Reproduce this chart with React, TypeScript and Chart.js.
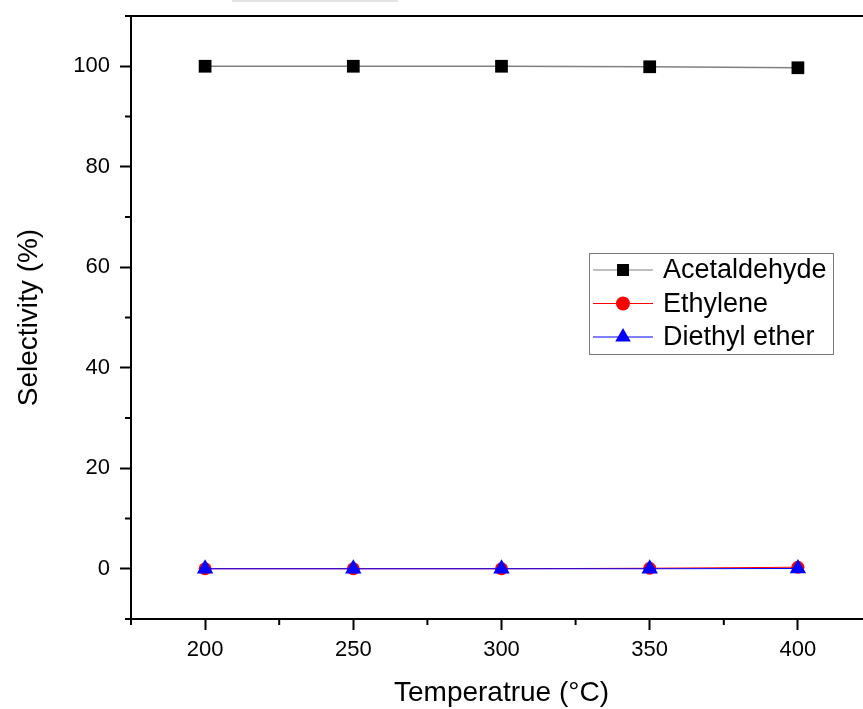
import React, { useEffect, useRef } from "react";
import { Chart, registerables } from "chart.js";

Chart.register(...registerables);

// ---- data ----
const temperatures = [200, 250, 300, 350, 400];
const acetaldehyde = [100, 100, 100, 99.9, 99.7];
const ethylene = [0, 0, 0, 0.1, 0.3];
const diethylEther = [0, 0, 0, 0, 0.05];
const seriesNames = ["Acetaldehyde", "Ethylene", "Diethyl ether"];
const xMajorTicks = [200, 250, 300, 350, 400];
const xMinorTicks = [175, 225, 275, 325, 375, 425];
const yMajorTicks = [0, 20, 40, 60, 80, 100];
const yMinorTicks = [-10, 10, 30, 50, 70, 90, 110];
const xTitle = "Temperatrue (°C)";
const yTitle = "Selectivity (%)";

const FONT = "'Liberation Sans', Arial, Helvetica, sans-serif";

function toPoints(ys: number[]) {
  return temperatures.map((t, i) => ({ x: t, y: ys[i] }));
}

function drawMarker(ctx: CanvasRenderingContext2D, style: string, x: number, y: number, r: number, color: string) {
  ctx.save();
  ctx.fillStyle = color;
  ctx.beginPath();
  if (style === "rect") {
    const s = Math.SQRT1_2 * r;
    ctx.rect(x - s, y - s, 2 * s, 2 * s);
  } else if (style === "circle") {
    ctx.arc(x, y, r, 0, Math.PI * 2);
  } else if (style === "triangle") {
    let rad = 0;
    ctx.moveTo(x + Math.sin(rad) * r, y - Math.cos(rad) * r);
    rad += (2 * Math.PI) / 3;
    ctx.lineTo(x + Math.sin(rad) * r, y - Math.cos(rad) * r);
    rad += (2 * Math.PI) / 3;
    ctx.lineTo(x + Math.sin(rad) * r, y - Math.cos(rad) * r);
    ctx.closePath();
  }
  ctx.fill();
  ctx.restore();
}

const framePlugin = {
  id: "frameAndLegend",
  afterDraw(chart: any) {
    const ctx: CanvasRenderingContext2D = chart.ctx;
    const { left, right, top, bottom } = chart.chartArea;
    const xs = chart.scales.x;
    const ys = chart.scales.y;
    ctx.save();
    // faint grey artifact at very top
    ctx.fillStyle = "#e4e4e4";
    ctx.fillRect(232, 0, 166, 2);

    ctx.strokeStyle = "#000";
    ctx.lineWidth = 2;
    // top and right border
    ctx.beginPath();
    ctx.moveTo(left - 1, top);
    ctx.lineTo(right, top);
    ctx.lineTo(right, bottom);
    ctx.stroke();
    // minor ticks
    ctx.beginPath();
    for (const v of xMinorTicks) {
      const px = xs.getPixelForValue(v);
      ctx.moveTo(px, bottom);
      ctx.lineTo(px, bottom + 6);
    }
    for (const v of yMinorTicks) {
      const py = ys.getPixelForValue(v);
      ctx.moveTo(left, py);
      ctx.lineTo(left - 6, py);
    }
    ctx.stroke();

    // legend box
    const bx = 589, by = 253, bw = 244, bh = 101;
    ctx.fillStyle = "#fff";
    ctx.fillRect(bx, by, bw, bh);
    ctx.strokeStyle = "#777";
    ctx.lineWidth = 1;
    ctx.strokeRect(bx + 0.5, by + 0.5, bw, bh);
    const rows = [270, 303.5, 337];
    chart.data.datasets.forEach((ds: any, i: number) => {
      const y = rows[i];
      ctx.strokeStyle = ds.borderColor;
      ctx.lineWidth = 1;
      ctx.beginPath();
      ctx.moveTo(593, y);
      ctx.lineTo(653, y);
      ctx.stroke();
      drawMarker(ctx, ds.pointStyle, 623, y, ds.legendRadius, ds.pointBackgroundColor);
      ctx.fillStyle = "#000";
      ctx.font = `27px ${FONT}`;
      ctx.textAlign = "left";
      ctx.textBaseline = "middle";
      ctx.fillText(ds.label, 663, y + 1);
    });
    ctx.restore();
  },
};

export default function App() {
  const ref = useRef<HTMLCanvasElement>(null);
  useEffect(() => {
    if (!ref.current) return;
    const chart = new Chart(ref.current, {
      type: "line",
      data: {
        datasets: [
          {
            label: seriesNames[0],
            data: toPoints(acetaldehyde),
            borderColor: "#808080",
            borderWidth: 1.3,
            pointStyle: "rect",
            pointRadius: 9,
            pointBackgroundColor: "#000",
            pointBorderWidth: 0,
            pointBorderColor: "#000",
            legendRadius: 8.5,
            order: 3,
          } as any,
          {
            label: seriesNames[1],
            data: toPoints(ethylene),
            borderColor: "#ff0000",
            borderWidth: 1,
            pointStyle: "circle",
            pointRadius: 6.5,
            pointBackgroundColor: "#ff0000",
            pointBorderWidth: 0,
            pointBorderColor: "#ff0000",
            legendRadius: 7,
            order: 2,
          } as any,
          {
            label: seriesNames[2],
            data: toPoints(diethylEther),
            borderColor: "#0000ff",
            borderWidth: 1,
            pointStyle: "triangle",
            pointRadius: 9.5,
            pointBackgroundColor: "#0000ff",
            pointBorderWidth: 0,
            pointBorderColor: "#0000ff",
            legendRadius: 9,
            order: 1,
          } as any,
        ],
      },
      options: {
        animation: false,
        responsive: false,
        maintainAspectRatio: false,
        layout: { autoPadding: false, padding: { top: 16, left: 0, right: 0, bottom: 0 } },
        plugins: {
          legend: { display: false },
          tooltip: { enabled: false },
        },
        elements: { line: { tension: 0 } },
        scales: {
          x: {
            type: "linear",
            min: 175,
            max: 425,
            afterFit: (s: any) => {
              s.height = 90;
              s.paddingLeft = 0;
              s.paddingRight = 0;
            },
            afterBuildTicks: (s: any) => {
              s.ticks = xMajorTicks.map((v) => ({ value: v }));
            },
            border: { display: true, color: "#000", width: 2 },
            grid: {
              drawOnChartArea: false,
              drawTicks: true,
              tickLength: 11,
              tickWidth: 2,
              tickColor: "#000",
            },
            ticks: {
              color: "#000",
              font: { family: FONT, size: 22 },
              padding: 7,
              maxRotation: 0,
              autoSkip: false,
            },
            title: {
              display: true,
              text: xTitle,
              color: "#000",
              font: { family: FONT, size: 28, lineHeight: 1 },
              padding: { top: 0, bottom: 2 },
            },
          },
          y: {
            type: "linear",
            min: -10,
            max: 110,
            afterFit: (s: any) => {
              s.width = 131;
              s.paddingTop = 0;
              s.paddingBottom = 0;
            },
            afterBuildTicks: (s: any) => {
              s.ticks = yMajorTicks.map((v) => ({ value: v }));
            },
            border: { display: true, color: "#000", width: 2 },
            grid: {
              drawOnChartArea: false,
              drawTicks: true,
              tickLength: 11,
              tickWidth: 2,
              tickColor: "#000",
            },
            ticks: {
              color: "#000",
              font: { family: FONT, size: 22 },
              padding: 10,
              autoSkip: false,
            },
            title: {
              display: true,
              text: yTitle,
              color: "#000",
              font: { family: FONT, size: 28, lineHeight: 1 },
              padding: { top: 15, bottom: 0 },
            },
          },
        },
      } as any,
      plugins: [framePlugin],
    });
    return () => chart.destroy();
  }, []);

  return (
    <div
      style={{
        position: "fixed",
        left: 0,
        top: 0,
        width: 863,
        height: 709,
        overflow: "hidden",
        background: "#fff",
      }}
    >
      <div style={{ width: 872, height: 709 }}>
        <canvas ref={ref} width={872} height={709} style={{ display: "block" }} />
      </div>
    </div>
  );
}
